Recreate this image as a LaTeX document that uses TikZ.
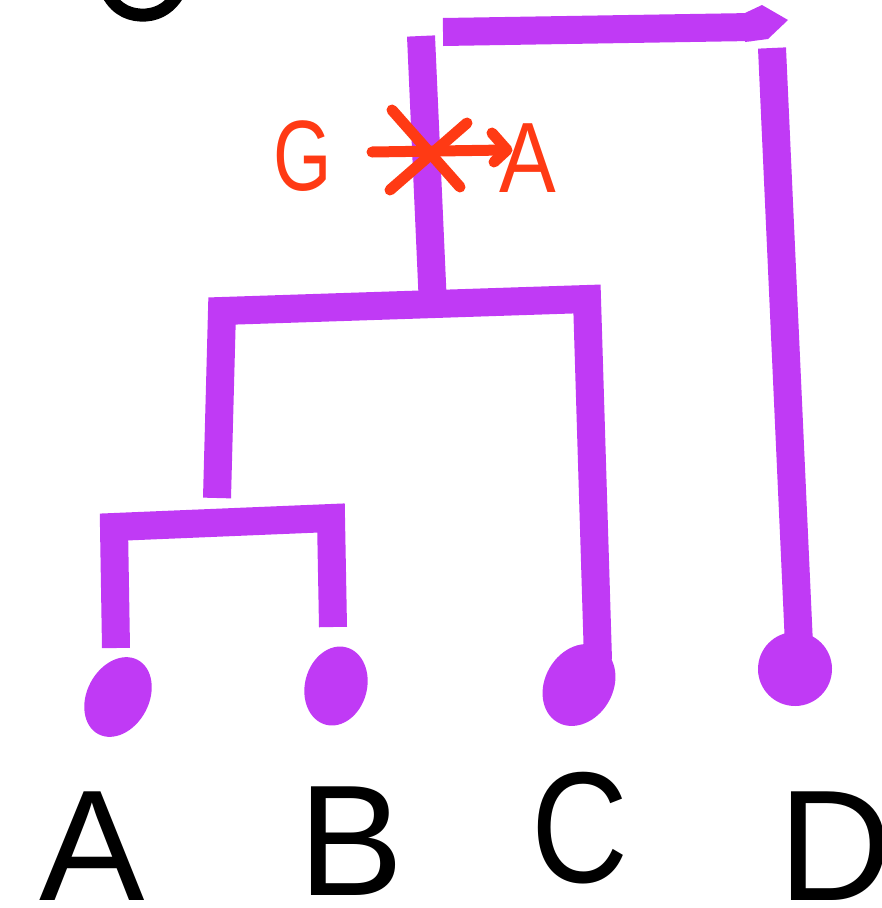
\documentclass[tikz,border=0pt]{standalone}
\usepackage{fontspec}
\usepackage{graphicx}
\setmainfont{Liberation Sans}
\definecolor{crayon}{RGB}{192,58,245}
\definecolor{redmark}{RGB}{255,58,20}
\begin{document}
\begin{tikzpicture}[x=1pt,y=-1pt,
  branch/.style={draw=crayon,line width=28pt,line join=miter,line cap=butt},
  blobfill/.style={fill=crayon},
  tipname/.style={font=\fontsize{158}{158}\selectfont,inner sep=0pt,anchor=base,text=black},
  redstroke/.style={draw=redmark,line width=11pt,line cap=round,line join=round},
  redtext/.style={font=\fontsize{100}{100}\selectfont,inner sep=0pt,text=redmark}
]
\useasboundingbox (0,0) rectangle (882,908);

% partial black stroke at top left
\draw[line width=13pt,black,line cap=round] (108,-6) .. controls (117,11) and (132,16) .. (146,15) .. controls (160,14) and (171,6) .. (178,-6);

% coordinates of the tree
\coordinate (rootT) at (421,36);
\coordinate (rootB) at (433,306);
\coordinate (topL) at (443,32);
\coordinate (topR) at (752,27);
\coordinate (lcBot) at (217,498);
\coordinate (lcTop) at (222,311);
\coordinate (cTop) at (587,299);
\coordinate (cBot) at (598,660);
\coordinate (aBot) at (116,648);
\coordinate (aTop) at (114,527);
\coordinate (bTop) at (331,518);
\coordinate (bBot) at (333,627);
\coordinate (dTop) at (772,48);
\coordinate (dBot) at (799,645);

% branches
\draw[branch] (rootT) -- (rootB);
\draw[branch] (topL) -- (topR);
\fill[crayon] (745,13) -- (762,5) -- (788,20) -- (768,39) -- (745,42) -- cycle;
\draw[branch] (lcBot) -- (lcTop) -- (cTop) -- (cBot);
\draw[branch] (aBot) -- (aTop) -- (bTop) -- (bBot);
\draw[branch] (dTop) -- (dBot);

% blobs
\fill[blobfill,shift={(118,697)},rotate=-28] (0,0) ellipse [x radius=31pt,y radius=42pt];
\fill[blobfill,shift={(336,686)},rotate=-15] (0,0) ellipse [x radius=31pt,y radius=40pt];
\fill[blobfill,shift={(579,685)},rotate=-30] (0,0) ellipse [x radius=34pt,y radius=43pt];
\fill[blobfill,shift={(795,669)},rotate=-5] (0,0) ellipse [x radius=37pt,y radius=37pt];

% red mutation mark
\coordinate (s1a) at (392,110); \coordinate (s1b) at (460,187);
\coordinate (s2a) at (390,190); \coordinate (s2b) at (467,123);
\coordinate (s3a) at (372,152); \coordinate (s3b) at (505,150);
\coordinate (h1) at (492,133); \coordinate (h2) at (507,150); \coordinate (h3) at (494,162);
\draw[redstroke] (s1a) -- (s1b);
\draw[redstroke] (s2a) -- (s2b);
\draw[redstroke] (s3a) -- (s3b);
\draw[redstroke] (h1) -- (h2) -- (h3);
\node[redtext] (gfrom) at (303,156) {\scalebox{0.75}[1]{G}};
\node[redtext] (gto) at (528,158) {\scalebox{0.85}[1]{A}};

% tip labels
\node[tipname] (labA) at (92,900) {A};
\node[tipname] (labB) at (351,895) {B};
\node[tipname] (labC) at (580,882) {\scalebox{0.85}[1]{C}};
\node[tipname] (labD) at (836,900) {D};
\end{tikzpicture}
\end{document}
